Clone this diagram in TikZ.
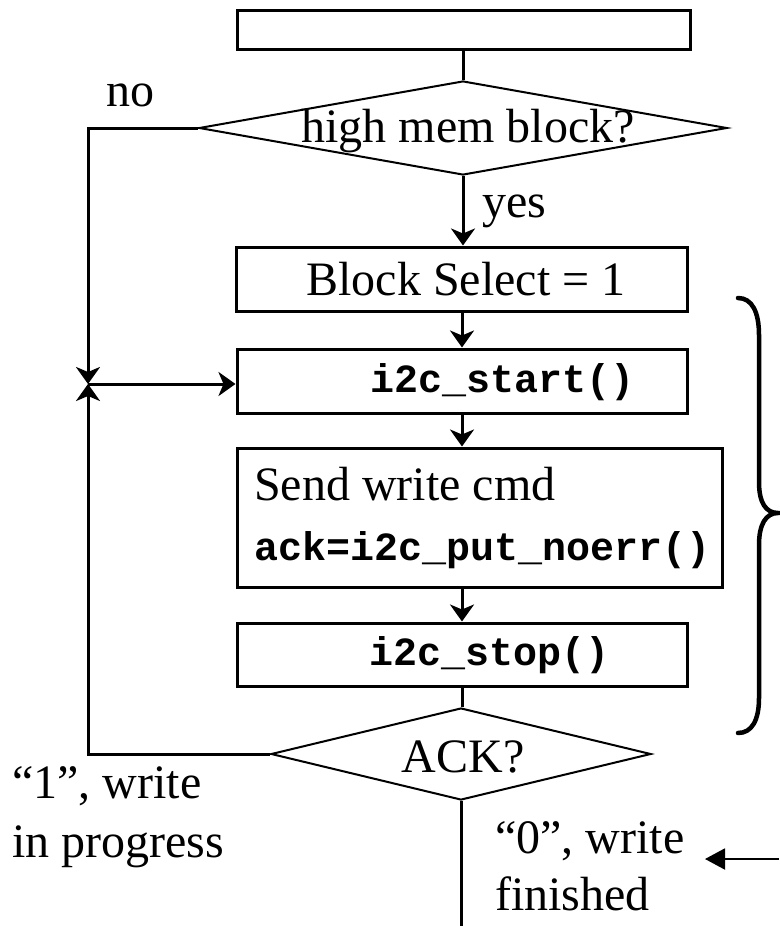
\documentclass[tikz,border=0pt]{standalone}
\usepackage{fontspec}
\setmainfont{Liberation Serif}
\newfontfamily\codefont{Liberation Mono}
\usetikzlibrary{shapes.geometric,arrows.meta}
\begin{document}
\begin{tikzpicture}[x=1pt,y=-1pt,
  box/.style={draw, rectangle, line width=3pt, inner sep=0pt},
  dia/.style={draw, diamond, line width=2pt, inner sep=0pt},
  txt/.style={font=\fontsize{48}{58}\selectfont, inner sep=0pt},
  code/.style={font=\fontsize{40}{48}\selectfont\codefont\bfseries, inner sep=0pt},
  conn/.style={line width=3pt},
  arr/.style={line width=3pt, -{Stealth[length=17pt,width=24pt,inset=5pt]}},
  ptr/.style={line width=2pt, -{Triangle[length=20pt,width=21pt]}}]
\useasboundingbox (0,0) rectangle (779,926);

% boxes
\node[box, minimum width=453pt, minimum height=39pt] (top) at (463.5,29.5) {};
\node[dia, minimum width=528pt, minimum height=94pt] (hm) at (463,128) {};
\node[box, minimum width=451pt, minimum height=64pt] (bs) at (462,279) {};
\node[box, minimum width=450pt, minimum height=64pt] (st) at (462,381) {};
\node[box, minimum width=485pt, minimum height=139pt] (sw) at (479.5,517.5) {};
\node[box, minimum width=450pt, minimum height=63pt] (sp) at (462,654.5) {};
\node[dia, minimum width=380pt, minimum height=92pt] (ack) at (461,754) {};

% texts
\node[txt, anchor=base] (thm) at (468,142) {high mem block?};
\node[txt, anchor=base west] (tno) at (106,106) {no};
\node[txt, anchor=base west] (tyes) at (482,217) {yes};
\node[txt, anchor=base] (tbs) at (466,295) {Block Select = 1};
\node[code, anchor=base west] (tst) at (370,392) {i2c\_start()};
\node[txt, anchor=base west] (tsw) at (254,500) {Send write cmd};
\node[code, anchor=base west] (tack) at (254,560) {ack=i2c\_put\_noerr()};
\node[code, anchor=base west] (tsp) at (369,665) {i2c\_stop()};
\node[txt, anchor=base] (tackq) at (463,772) {ACK?};
\node[txt, anchor=base west] (tone) at (12,798) {“1”, write};
\node[txt, anchor=base west] (tprog) at (12,857) {in progress};
\node[txt, anchor=base west] (tzero) at (495,853) {“0”, write};
\node[txt, anchor=base west] (tfin) at (495,910) {finished};

% coordinates
\coordinate (J) at (88,384);
\coordinate (bot) at (461,926);
\coordinate (pA) at (779,859);
\coordinate (pB) at (705,859);

% connectors
\draw[conn] (top.south) -- (top.south |- hm.north);
\draw[arr] (hm.south) -- (hm.south |- bs.north);
\draw[arr] (bs.south) -- (st.north);
\draw[arr] (st.south) -- (st.south |- sw.north);
\draw[arr] (sp.north |- sw.south) -- (sp.north);
\draw[conn] (sp.south) -- (sp.south |- ack.north);
\draw[conn] (ack.south) -- (bot);
\draw[arr] (hm.west) -| (J);
\draw[arr] (ack.west) -| (J);
\draw[arr] (J) -- (J -| st.west);
\draw[ptr] (pA) -- (pB);

% brace
\draw[line width=4.5pt, line cap=round]
  (738,298) .. controls (752,298) and (759,312) .. (759,335)
  -- (759,482) .. controls (759,503) and (766,513) .. (778,513)
  .. controls (766,513) and (759,524) .. (759,545)
  -- (759,698) .. controls (759,720) and (752,733) .. (738,733);
\end{tikzpicture}
\end{document}
